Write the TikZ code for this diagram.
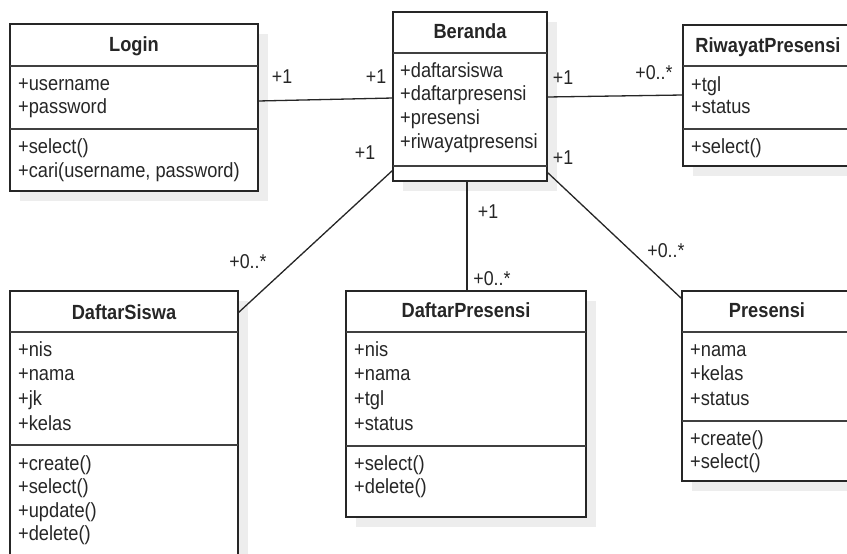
\documentclass[tikz,border=0pt]{standalone}
\usepackage{fontspec}
\setmainfont[FakeStretch=0.89]{Liberation Sans}
\usetikzlibrary{calc}

% class box: shadow + frame; #1 name, #2 x, #3 y, #4 width, #5 height
\newcommand\umlclass[5]{%
  \fill[shadowbox] (#2+10,#3+10) rectangle ++(#4,#5);
  \node[classbox, minimum width=#4pt, minimum height=#5pt] (#1) at (#2,#3) {};
}

\begin{document}
\begin{tikzpicture}[x=1pt, y=-1pt,
  classbox/.style={draw=black!85, line width=1.6pt, fill=white, rectangle,
    inner sep=0pt, outer sep=0pt, anchor=north west},
  shadowbox/.style={fill=black!7, draw=none},
  compsep/.style={draw=black!75, line width=1.6pt},
  member/.style={anchor=west, inner sep=0pt, text height=15pt, text depth=4.5pt,
    font=\fontsize{20.5}{24}\selectfont, text=black!85},
  classtitle/.style={member, anchor=center,
    font=\fontsize{20.5}{24}\selectfont\bfseries},
  assoc/.style={draw=black!85, line width=1.3pt},
  mult/.style={inner sep=0pt, text height=15pt, text depth=4.5pt,
    font=\fontsize{20}{24}\selectfont, text=black!85}
]
\clip (0,0) rectangle (847,554);
\fill[white] (0,0) rectangle (847,554);

% ---------- Login ----------
\umlclass{login}{10}{24}{248}{167}
\draw[compsep] ($(login.north west)+(0,42)$) -- ($(login.north east)+(0,42)$);
\draw[compsep] ($(login.north west)+(0,105)$) -- ($(login.north east)+(0,105)$);
\node[classtitle] (login-t) at (134,46) {Login};
\node[member] (login-a1) at (18,85) {+username};
\node[member] (login-a2) at (18,108) {+password};
\node[member] (login-m1) at (18,148) {+select()};
\node[member] (login-m2) at (18,172) {+cari(username, password)};

% ---------- Beranda ----------
\umlclass{beranda}{393}{12}{154}{169}
\draw[compsep] ($(beranda.north west)+(0,41)$) -- ($(beranda.north east)+(0,41)$);
\draw[compsep] ($(beranda.north west)+(0,154)$) -- ($(beranda.north east)+(0,154)$);
\node[classtitle] (beranda-t) at (470,33) {Beranda};
\node[member] (beranda-a1) at (400,72) {+daftarsiswa};
\node[member] (beranda-a2) at (400,95) {+daftarpresensi};
\node[member] (beranda-a3) at (400,119) {+presensi};
\node[member] (beranda-a4) at (400,143) {+riwayatpresensi};

% ---------- RiwayatPresensi ----------
\umlclass{riwayat}{683}{25}{170}{141}
\draw[compsep] ($(riwayat.north west)+(0,41)$) -- ($(riwayat.north east)+(0,41)$);
\draw[compsep] ($(riwayat.north west)+(0,104)$) -- ($(riwayat.north east)+(0,104)$);
\node[classtitle] (riwayat-t) at (768,47) {RiwayatPresensi};
\node[member] (riwayat-a1) at (691,86) {+tgl};
\node[member] (riwayat-a2) at (691,108) {+status};
\node[member] (riwayat-m1) at (691,148) {+select()};

% ---------- DaftarSiswa ----------
\umlclass{dsiswa}{10}{291}{228}{280}
\draw[compsep] ($(dsiswa.north west)+(0,41)$) -- ($(dsiswa.north east)+(0,41)$);
\draw[compsep] ($(dsiswa.north west)+(0,154)$) -- ($(dsiswa.north east)+(0,154)$);
\node[classtitle] (dsiswa-t) at (124,314) {DaftarSiswa};
\node[member] (dsiswa-a1) at (18,351) {+nis};
\node[member] (dsiswa-a2) at (18,375) {+nama};
\node[member] (dsiswa-a3) at (18,400) {+jk};
\node[member] (dsiswa-a4) at (18,425) {+kelas};
\node[member] (dsiswa-m1) at (18,465) {+create()};
\node[member] (dsiswa-m2) at (18,488) {+select()};
\node[member] (dsiswa-m3) at (18,512) {+update()};
\node[member] (dsiswa-m4) at (18,535) {+delete()};

% ---------- DaftarPresensi ----------
\umlclass{dpres}{346}{291}{240}{226}
\draw[compsep] ($(dpres.north west)+(0,41)$) -- ($(dpres.north east)+(0,41)$);
\draw[compsep] ($(dpres.north west)+(0,155)$) -- ($(dpres.north east)+(0,155)$);
\node[classtitle] (dpres-t) at (466,312) {DaftarPresensi};
\node[member] (dpres-a1) at (354,351) {+nis};
\node[member] (dpres-a2) at (354,375) {+nama};
\node[member] (dpres-a3) at (354,400) {+tgl};
\node[member] (dpres-a4) at (354,425) {+status};
\node[member] (dpres-m1) at (354,465) {+select()};
\node[member] (dpres-m2) at (354,488) {+delete()};

% ---------- Presensi ----------
\umlclass{presensi}{682}{291}{171}{190}
\draw[compsep] ($(presensi.north west)+(0,41)$) -- ($(presensi.north east)+(0,41)$);
\draw[compsep] ($(presensi.north west)+(0,130)$) -- ($(presensi.north east)+(0,130)$);
\node[classtitle] (presensi-t) at (767,312) {Presensi};
\node[member] (presensi-a1) at (690,351) {+nama};
\node[member] (presensi-a2) at (690,375) {+kelas};
\node[member] (presensi-a3) at (690,400) {+status};
\node[member] (presensi-m1) at (690,440) {+create()};
\node[member] (presensi-m2) at (690,463) {+select()};

% ---------- associations ----------
\draw[assoc] ($(login.north east)+(0,77)$) -- ($(beranda.north west)+(0,86)$);
\draw[assoc] ($(beranda.north east)+(0,85)$) -- ($(riwayat.north west)+(0,70)$);
\draw[assoc] ($(beranda.north west)+(0,158)$) -- ($(dsiswa.north east)+(0,22)$);
\draw[assoc] (beranda.south -| 467,0) -- (dpres.north -| 467,0);
\draw[assoc] ($(beranda.north east)+(0,160)$) -- ($(presensi.north west)+(0,8)$);

% ---------- multiplicities ----------
\node[mult] (m-login) at (282,78) {+1};
\node[mult] (m-ber-l) at (376,78) {+1};
\node[mult] (m-ber-r) at (563,79) {+1};
\node[mult] (m-riw) at (654,74) {+0..*};
\node[mult] (m-ber-ds) at (365,154) {+1};
\node[mult] (m-ber-pr) at (563,159) {+1};
\node[mult] (m-ds) at (248,263) {+0..*};
\node[mult] (m-ber-dp) at (488,213) {+1};
\node[mult] (m-dp) at (492,280) {+0..*};
\node[mult] (m-pr) at (666,252) {+0..*};
\end{tikzpicture}
\end{document}
